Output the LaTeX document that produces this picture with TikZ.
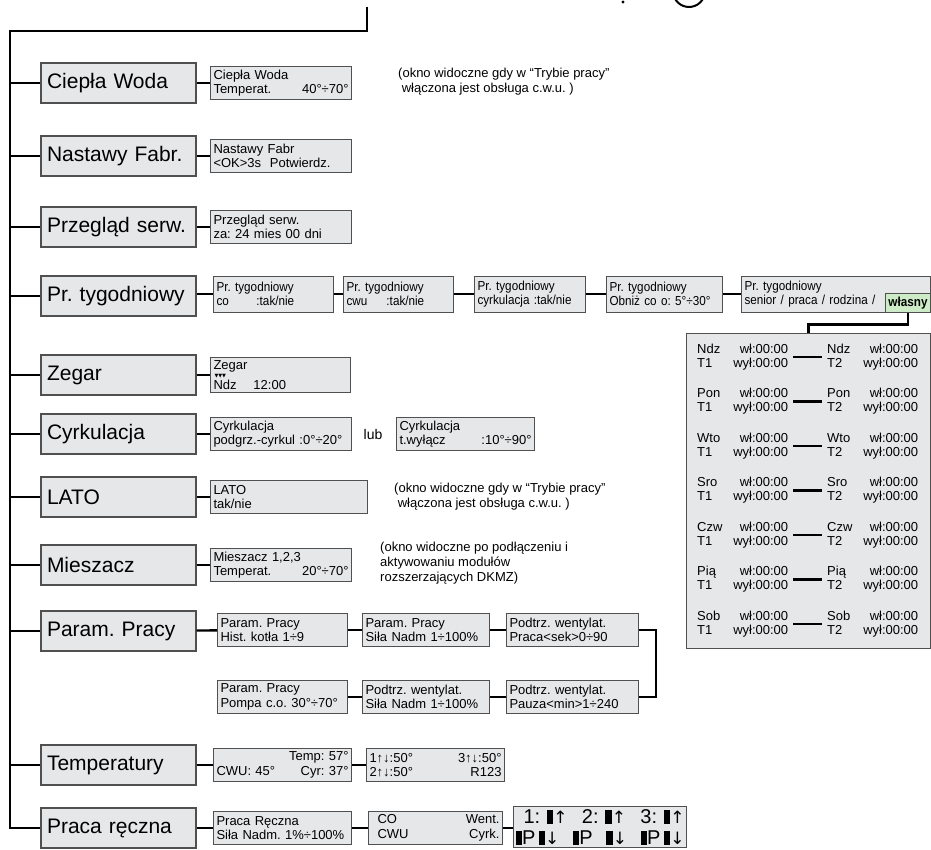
\documentclass[tikz,border=0pt]{standalone}
\usepackage{fontspec}
\setmainfont{Liberation Sans}
\newfontfamily\symfont{DejaVu Sans}
\newfontfamily\narrowfont[FakeStretch=0.9]{Liberation Sans}
\frenchspacing
\definecolor{lcdgray}{HTML}{E6E7E9}
\definecolor{framegray}{HTML}{505050}
\definecolor{selgreen}{HTML}{CDEBC6}
\newcommand{\menu}[3]{\node[menubox] (#1) at (118.5,#2) {#3};}
\newcommand{\lcd}[6]{\node[lcdbox,text width=#4pt] (#1) at (#2,#3) {#5\\#6};}
\newcommand{\blk}{\rule[-0.5pt]{6.5pt}{14pt}}

\begin{document}
\begin{tikzpicture}[x=1pt,y=-1pt,
  conn/.style={line width=2.4pt},
  menubox/.style={draw=framegray,fill=lcdgray,line width=1.1pt,minimum height=40pt,
    text width=143pt,inner xsep=6pt,align=left,font=\fontsize{21}{24}\selectfont},
  lcdbox/.style={draw=framegray,fill=lcdgray,line width=1pt,anchor=west,align=left,
    inner xsep=3pt,inner ysep=3pt,minimum height=33pt,font=\fontsize{13}{14.5}\selectfont},
  selbox/.style={draw=framegray,fill=selgreen,line width=1pt,anchor=south east,
    inner xsep=3pt,inner ysep=3pt,text height=9.5pt,text depth=2.8pt,
    font=\narrowfont\bfseries\fontsize{13}{14.5}\selectfont},
  schedbox/.style={draw=framegray,fill=lcdgray,line width=1.3pt,anchor=north west,
    minimum width=244pt,minimum height=315pt},
  entry/.style={anchor=west,align=left,text width=91pt,inner xsep=5pt,
    font=\fontsize{13}{14}\selectfont},
  note/.style={anchor=north west,align=left,inner sep=0pt,font=\fontsize{13}{15}\selectfont}]
\useasboundingbox (0,0) rectangle (931,850);

\fill (623,2) circle (1.6);
\draw[line width=2pt] (689,-9) circle (16);

\menu{cw}{83}{Ciepła Woda}
\menu{nf}{156}{Nastawy Fabr.}
\menu{ps}{227}{Przegląd serw.}
\menu{pt}{296}{Pr. tygodniowy}
\menu{zg}{375}{Zegar}
\menu{cy}{434}{Cyrkulacja}
\menu{la}{497}{LATO}
\menu{mi}{565}{Mieszacz}
\menu{pp}{631}{Param. Pracy}
\menu{te}{765}{Temperatury}
\menu{pr}{828}{Praca ręczna}

\lcd{cw1}{210}{83}{135}{Ciepła Woda}{Temperat.\hfill 40°÷70°}
\lcd{nf1}{210}{156}{135}{Nastawy Fabr}{<OK>3s\ \ Potwierdz.}
\lcd{ps1}{210}{227}{135}{Przegląd serw.}{za: 24 mies 00 dni}

\begin{scope}[lcdbox/.append style={font=\narrowfont\fontsize{13}{14.5}\selectfont,minimum height=36pt}]
\lcd{pt1}{213}{294}{114}{Pr. tygodniowy}{\makebox[40pt][l]{co}:tak/nie}
\lcd{pt2}{343}{294}{104}{Pr. tygodniowy}{\makebox[40pt][l]{cwu}:tak/nie}
\lcd{pt3}{474}{294}{105}{Pr. tygodniowy}{cyrkulacja :tak/nie}
\lcd{pt4}{606}{294}{110}{Pr. tygodniowy}{Obniż co o: 5°÷30°}
\lcd{pt5}{741}{294}{183}{Pr. tygodniowy}{senior / praca / rodzina /}
\end{scope}
\node[selbox] (own) at (pt5.south east) {własny};

\node[lcdbox,text width=134pt] (zg1) at (210,375)
  {Zegar\\[-6pt]\hspace*{1pt}{\symfont\fontsize{5}{5}\selectfont ▼▼▼}\\[-3pt]\makebox[40pt][l]{Ndz}12:00};
\lcd{cy1}{210}{434}{135}{Cyrkulacja}{podgrz.-cyrkul :0°÷20°}
\node[font=\fontsize{14}{14}\selectfont] (lub) at (373,434) {lub};
\lcd{cy2}{396}{434}{132}{Cyrkulacja}{t.wyłącz\hfill :10°÷90°}
\lcd{la1}{210}{497}{151}{LATO}{tak/nie}
\lcd{mi1}{210}{565}{135}{Mieszacz 1,2,3}{Temperat.\hfill 20°÷70°}

\lcd{p1}{217}{630}{124}{Param. Pracy}{Hist. kotła 1÷9}
\lcd{p2}{362}{630}{121}{Param. Pracy}{Siła Nadm 1÷100\%}
\lcd{p3}{506}{630}{126}{Podtrz. wentylat.}{Praca<sek>0÷90}
\lcd{p4}{506}{697}{126}{Podtrz. wentylat.}{Pauza<min>1÷240}
\lcd{p5}{362}{697}{121}{Podtrz. wentylat.}{Siła Nadm 1÷100\%}
\lcd{p6}{217}{697}{124}{Param. Pracy}{Pompa c.o. 30°÷70°}

\lcd{te1}{213}{765}{132}{\hfill Temp: 57°}{CWU: 45°\hfill Cyr: 37°}
\lcd{te2}{366}{765}{132}{1↑↓:50°\hfill 3↑↓:50°}{2↑↓:50°\hfill R123}
\lcd{pr1}{213}{828}{132}{Praca Ręczna}{Siła Nadm. 1\%÷100\%}
\lcd{pr2}{368}{828}{128}{\hspace*{6pt}CO\hfill Went.}{\hspace*{6pt}CWU\hfill Cyrk.}
\node[lcdbox,anchor=north west,text width=169pt,inner xsep=2pt,inner ysep=3pt,
  font=\fontsize{20}{21}\selectfont] (pr3) at (513,806)
  {\hspace*{8pt}1: \blk{\symfont\fontsize{17}{17}\selectfont ↑}\hfill 2: \blk{\symfont\fontsize{17}{17}\selectfont ↑}\hfill 3: \blk{\symfont\fontsize{17}{17}\selectfont ↑}\\
   \blk P\,\blk{\symfont\fontsize{17}{17}\selectfont ↓}\hfill\blk P\hfill\blk{\symfont\fontsize{17}{17}\selectfont ↓}\hfill\blk P\,\blk{\symfont\fontsize{17}{17}\selectfont ↓}};

\node[note] (n1) at (398,68) {(okno widoczne gdy w “Trybie pracy”\\\ włączona jest obsługa c.w.u. )};
\node[note] (n2) at (394,483) {(okno widoczne gdy w “Trybie pracy”\\\ włączona jest obsługa c.w.u. )};
\node[note] (n3) at (380,542) {(okno widoczne po podłączeniu i\\aktywowaniu modułów\\rozszerzających DKMZ)};

\node[schedbox] (sched) at (686,333) {};
\foreach \d [count=\i from 0] in {Ndz,Pon,Wto,Sro,Czw,Pią,Sob} {
  \node[entry] (l\i) at (692,357+44.5*\i) {\d\hfill wł:00:00\\T1\hfill wył:00:00};
  \node[entry] (r\i) at (822,357+44.5*\i) {\d\hfill wł:00:00\\T2\hfill wył:00:00};
  \draw[conn] (l\i) -- (r\i);
}

\coordinate (riser) at (367,7);
\coordinate (corner) at (10,31);
\draw[conn] (riser) |- (corner) |- (pr.west);
\foreach \n in {cw,nf,ps,pt,zg,cy,la,mi,pp,te}
  \draw[conn] (corner |- \n.west) -- (\n.west);
\foreach \a/\b in {cw/cw1,nf/nf1,ps/ps1,zg/zg1,cy/cy1,la/la1,mi/mi1,pp/p1,p1/p2,p2/p3,
    p4/p5,p5/p6,te/te1,te1/te2,pr/pr1,pr1/pr2}
  \draw[conn] (\a) -- (\b);
\foreach \a/\b in {pt/pt1,pt1/pt2,pt2/pt3,pt3/pt4,pt4/pt5}
  \draw[conn] (\a.east |- pt1) -- (\b.west);
\draw[conn] (pr2.east) -- (pr2.east -| pr3.west);
\draw[conn] (p3.east) -- ++(17,0) |- (p4.east);
\draw[conn] (own.south) -- ++(0,12) -| (sched.north);
\end{tikzpicture}
\end{document}
